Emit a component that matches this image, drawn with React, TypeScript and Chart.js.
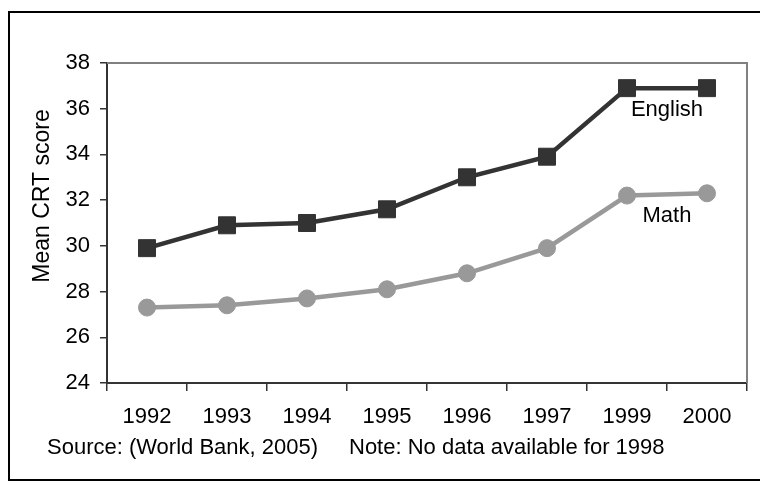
import React, { useEffect, useRef } from "react";
import { Chart, registerables } from "chart.js";

Chart.register(...registerables);

const years = ["1992", "1993", "1994", "1995", "1996", "1997", "1999", "2000"];
const english = [29.9, 30.9, 31.0, 31.6, 33.0, 33.9, 36.9, 36.9];
const math = [27.3, 27.4, 27.7, 28.1, 28.8, 29.9, 32.2, 32.3];
const yTitle = "Mean CRT score";
const sourceText = "Source: (World Bank, 2005)";
const noteText = "Note: No data available for 1998";
const seriesNames = ["English", "Math"];

const FONT = "Arial, 'Liberation Sans', sans-serif";

const decorPlugin = {
  id: "decor",
  afterDraw(chart: any) {
    const ctx = chart.ctx;
    const a = chart.chartArea;
    ctx.save();
    // top and right plot border
    ctx.strokeStyle = "#808080";
    ctx.lineWidth = 2;
    ctx.beginPath();
    ctx.moveTo(a.left, a.top);
    ctx.lineTo(a.right, a.top);
    ctx.lineTo(a.right, a.bottom);
    ctx.stroke();

    ctx.fillStyle = "#000";
    // y title
    ctx.save();
    ctx.font = `23px ${FONT}`;
    ctx.translate(a.left - 64, a.top + 133);
    ctx.rotate(-Math.PI / 2);
    ctx.textAlign = "center";
    ctx.textBaseline = "middle";
    ctx.fillText(yTitle, 0, 0);
    ctx.restore();

    ctx.font = `22px ${FONT}`;
    // series labels
    ctx.textAlign = "center";
    ctx.textBaseline = "middle";
    const offs = [22, 20];
    [0, 1].forEach((di) => {
      const meta = chart.getDatasetMeta(di);
      const p6 = meta.data[6];
      const p7 = meta.data[7];
      ctx.fillText(seriesNames[di], (p6.x + p7.x) / 2, p6.y + offs[di]);
    });

    // footnotes
    ctx.textAlign = "left";
    ctx.fillText(sourceText, a.left - 60, a.bottom + 65);
    ctx.fillText(noteText, a.left + 242, a.bottom + 65);
    ctx.restore();
  },
};

export default function App() {
  const ref = useRef<HTMLCanvasElement>(null);
  useEffect(() => {
    if (!ref.current) return;
    const chart = new Chart(ref.current, {
      type: "line",
      data: {
        labels: years,
        datasets: [
          {
            label: seriesNames[0],
            data: english,
            borderColor: "#333333",
            backgroundColor: "#333333",
            borderWidth: 4.5,
            pointStyle: "rect",
            pointRadius: 12,
            pointBorderWidth: 1,
            pointBorderColor: "#333333",
            pointBackgroundColor: "#333333",
            tension: 0,
          },
          {
            label: seriesNames[1],
            data: math,
            borderColor: "#999999",
            backgroundColor: "#999999",
            borderWidth: 4.5,
            pointStyle: "circle",
            pointRadius: 8.5,
            pointBorderWidth: 1,
            pointBorderColor: "#999999",
            pointBackgroundColor: "#999999",
            tension: 0,
          },
        ],
      },
      options: {
        responsive: false,
        animation: false,
        layout: { padding: { left: 0, top: 50, right: 14, bottom: 0 } },
        plugins: {
          legend: { display: false },
          tooltip: { enabled: false },
          title: { display: false },
        },
        scales: {
          x: {
            type: "category",
            offset: true,
            grid: {
              offset: true,
              drawOnChartArea: false,
              drawTicks: true,
              tickLength: 8,
              color: "#333333",
              lineWidth: 1.5,
            },
            border: { display: true, color: "#333333", width: 2 },
            ticks: {
              color: "#000",
              font: { family: FONT, size: 22 },
              padding: 13,
              maxRotation: 0,
              autoSkip: false,
            },
            afterFit(scale: any) {
              scale.height = 96;
            },
          },
          y: {
            min: 24,
            max: 38,
            grid: {
              drawOnChartArea: false,
              drawTicks: true,
              tickLength: 7,
              color: "#333333",
              lineWidth: 1.5,
            },
            border: { display: true, color: "#333333", width: 2 },
            ticks: {
              stepSize: 2,
              color: "#000",
              font: { family: FONT, size: 22 },
              padding: 10,
            },
            afterFit(scale: any) {
              scale.width = 97;
            },
          },
        },
      },
      plugins: [decorPlugin],
    });
    return () => chart.destroy();
  }, []);

  return (
    <div
      style={{
        width: 751,
        height: 466,
        border: "2px solid #000",
        marginTop: 3,
        background: "#fff",
      }}
    >
      <canvas ref={ref} width={751} height={466} style={{ display: "block" }} />
    </div>
  );
}
